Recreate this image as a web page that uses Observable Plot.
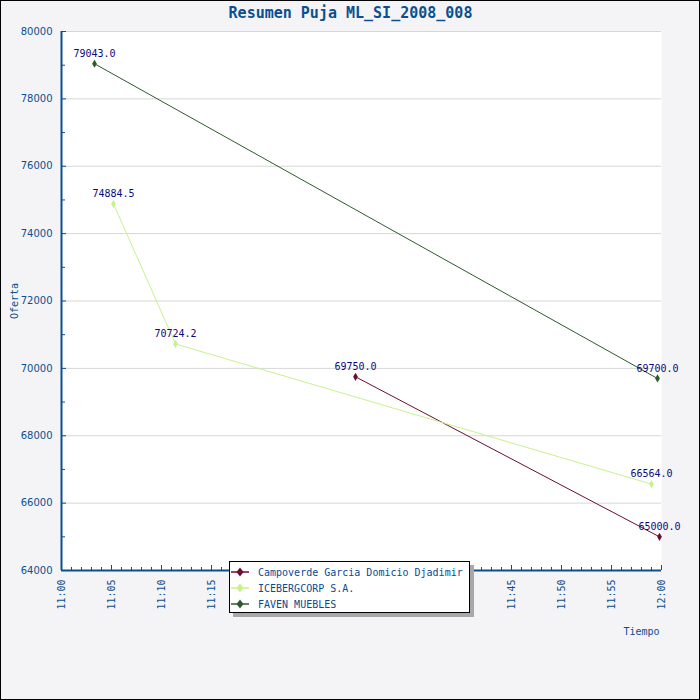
<!DOCTYPE html>
<html>
<head>
<meta charset="utf-8">
<script src="https://cdn.jsdelivr.net/npm/d3@7"></script>
<script src="https://cdn.jsdelivr.net/npm/@observablehq/plot@0.6"></script>
<style>
  html, body { margin: 0; padding: 0; background: #f4f4f6; }
  #wrap { position: relative; width: 700px; height: 700px; overflow: hidden; }
  #border { position: absolute; left: 0; top: 0; width: 700px; height: 700px; box-sizing: border-box; border: 1px solid #000; pointer-events: none; }
  #legend { position: absolute; left: 229px; top: 561px; width: 241px; height: 52px; box-sizing: border-box;
            border: 1px solid #000; background: #fff; box-shadow: 4px 4px 0 #a8a8a8;
            font: 10px "DejaVu Sans Mono", monospace; color: #0b4a8f; }
  .row { position: absolute; left: 0; height: 16px; display: flex; align-items: center; }
  .row svg { margin-left: 1px; margin-right: 9px; }
</style>
</head>
<body>
<div id="wrap"></div>
<script>
const title = "Resumen Puja ML_SI_2008_008";
const yLabel = "Oferta";
const xLabel = "Tiempo";
const seriesNames = ["Campoverde Garcia Domicio Djadimir", "ICEBERGCORP S.A.", "FAVEN MUEBLES"];
const seriesColors = ["#6b0f2b", "#c6f28e", "#2f5a2f"];

const campoverdeTimes = ["11:29:24", "11:59:48"];
const campoverdeValues = [69750.0, 65000.0];
const icebergTimes = ["11:05:12", "11:11:24", "11:59:00"];
const icebergValues = [74884.5, 70724.2, 66564.0];
const favenTimes = ["11:03:18", "11:59:36"];
const favenValues = [79043.0, 69700.0];

const xDomain = ["11:00:00", "12:00:00"];
const yDomain = [64000, 80000];
const yTickLabels = [64000, 66000, 68000, 70000, 72000, 74000, 76000, 78000, 80000];

const blue = "#0b4f91";
const parse = d3.utcParse("%H:%M:%S");

const data = [];
[[campoverdeTimes, campoverdeValues], [icebergTimes, icebergValues], [favenTimes, favenValues]].forEach(([ts, vs], i) => {
  ts.forEach((t, j) => data.push({series: seriesNames[i], time: parse(t), value: vs[j]}));
});

const x0 = parse(xDomain[0]), x1 = parse(xDomain[1]);
const xMajor = d3.utcMinute.every(5).range(x0, new Date(+x1 + 1));
const xMinor = d3.utcMinute.every(1).range(x0, new Date(+x1 + 1)).filter(d => d.getUTCMinutes() % 5 !== 0);
const yMinor = d3.range(yDomain[0] + 1000, yDomain[1], 2000);
const fmt = d3.utcFormat("%H:%M");

const W = 700, H = 700, mL = 61, mR = 39, mT = 31, mB = 130;
const fw = W - mL - mR, fh = H - mT - mB;

const chart = Plot.plot({
  width: W, height: H,
  marginLeft: mL, marginRight: mR, marginTop: mT, marginBottom: mB,
  style: {background: "#f4f4f6", overflow: "visible"},
  x: {type: "utc", domain: [x0, x1], axis: null},
  y: {domain: yDomain, axis: null},
  color: {domain: seriesNames, range: seriesColors},
  marks: [
    Plot.frame({fill: "#fff", stroke: null}),
    Plot.ruleY(yTickLabels.filter(v => v > yDomain[0]), {y: d => d, stroke: "#d6d6d6", strokeWidth: 1}),
    Plot.tickY(yTickLabels, {y: d => d, stroke: blue, insetRight: fw - 5}),
    Plot.tickY(yMinor, {y: d => d, stroke: blue, insetRight: fw - 4}),
    Plot.tickX(xMajor, {x: d => d, stroke: blue, insetTop: fh - 5}),
    Plot.tickX(xMinor, {x: d => d, stroke: blue, insetTop: fh - 3}),
    Plot.ruleX([x0], {stroke: blue, strokeWidth: 2}),
    Plot.ruleY([yDomain[0]], {stroke: blue, strokeWidth: 2}),
    Plot.text(yTickLabels, {y: d => d, text: d => String(d), frameAnchor: "left", textAnchor: "end", dx: -9,
      fill: blue, fontSize: 10, fontFamily: "DejaVu Sans"}),
    Plot.text(xMajor, {x: d => d, text: d => fmt(d), frameAnchor: "bottom", rotate: -90, textAnchor: "end",
      lineAnchor: "middle", dy: 9, fill: blue, fontSize: 10, fontFamily: "DejaVu Sans Mono"}),
    Plot.line(data, {x: "time", y: "value", z: "series", stroke: "series", strokeWidth: 1}),
    Plot.dot(data, {x: "time", y: "value", fill: "series", symbol: "diamond", r: 2.5, stroke: null}),
    Plot.text(data, {x: "time", y: "value", text: d => d.value.toFixed(1), dy: -10, fill: "#0a0a80",
      fontSize: 10, fontFamily: "DejaVu Sans Mono"}),
    Plot.text([title], {frameAnchor: "top", dx: -11, dy: -18, lineAnchor: "middle", fill: blue, fontSize: 15,
      fontWeight: "bold", fontFamily: "DejaVu Sans Mono"}),
    Plot.text([yLabel], {frameAnchor: "left", dx: -47, rotate: -90, textAnchor: "middle", lineAnchor: "middle",
      fill: blue, fontSize: 10, fontFamily: "DejaVu Sans Mono"}),
    Plot.text([xLabel], {frameAnchor: "bottom-right", dx: -2, dy: 61, textAnchor: "end", lineAnchor: "middle",
      fill: blue, fontSize: 10, fontFamily: "DejaVu Sans Mono"})
  ]
});

const wrap = document.getElementById("wrap");
wrap.appendChild(chart);

const legend = document.createElement("div");
legend.id = "legend";
seriesNames.forEach((name, i) => {
  const row = document.createElement("div");
  row.className = "row";
  row.style.top = (2 + i * 16) + "px";
  const c = seriesColors[i];
  row.innerHTML = `<svg width="18" height="12" viewBox="0 0 18 12"><line x1="0" y1="6" x2="18" y2="6" stroke="${c}" stroke-width="1.5"/><path d="M9 1.5 L12.5 6 L9 10.5 L5.5 6 Z" fill="${c}"/></svg><span>${name}</span>`;
  legend.appendChild(row);
});
wrap.appendChild(legend);

const border = document.createElement("div");
border.id = "border";
wrap.appendChild(border);
</script>
</body>
</html>
